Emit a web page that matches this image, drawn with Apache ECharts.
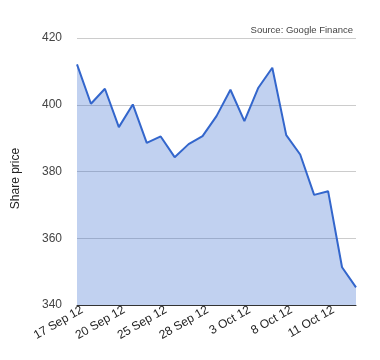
<!DOCTYPE html>
<html><head><meta charset="utf-8">
<script src="https://cdn.jsdelivr.net/npm/echarts@6/dist/echarts.min.js"></script>
<style>html,body{margin:0;padding:0;background:#fff}#c{width:380px;height:360px}</style>
</head><body><div id="c"></div>
<script>
var dates = ["17 Sep 12","18 Sep 12","19 Sep 12","20 Sep 12","21 Sep 12","24 Sep 12","25 Sep 12","26 Sep 12","27 Sep 12","28 Sep 12","1 Oct 12","2 Oct 12","3 Oct 12","4 Oct 12","5 Oct 12","8 Oct 12","9 Oct 12","10 Oct 12","11 Oct 12","12 Oct 12","15 Oct 12"];
var prices = [412.1,400.3,404.8,393.3,400.1,388.6,390.5,384.3,388.2,390.6,396.6,404.5,395.1,405.1,411.1,390.9,385.1,373.0,374.1,351.3,345.3];
var yTicks = [340,360,380,400,420];
var chart = echarts.init(document.getElementById('c'), null, {renderer:'canvas'});
chart.setOption({
  animation:false,
  backgroundColor:'#fff',
  title:{text:'Source: Google Finance', right:22, top:20, textStyle:{fontFamily:'Liberation Sans, Arial', fontSize:9.5, fontWeight:'normal', color:'#444'}},
  grid:{left:77, right:24, top:38, bottom:55},
  xAxis:{type:'category', data:dates, boundaryGap:false,
    axisLine:{show:true, lineStyle:{color:'#333', width:1}},
    axisTick:{show:false},
    axisLabel:{interval:2, rotate:30, color:'#222', fontFamily:'Liberation Sans, Arial', fontSize:12, margin:7, padding:[0,-6,0,0]},
    splitLine:{show:false}},
  yAxis:{type:'value', min:yTicks[0], max:yTicks[yTicks.length-1], interval:20,
    name:'Share price', nameLocation:'middle', nameGap:55, nameRotate:90,
    nameTextStyle:{color:'#222', fontFamily:'Liberation Sans, Arial', fontSize:12, padding:[0,14,0,0]},
    axisLine:{show:false}, axisTick:{show:false},
    axisLabel:{color:'#444', fontFamily:'Liberation Sans, Arial', fontSize:12, margin:15},
    splitLine:{lineStyle:{color:'#ccc', width:1}}},
  series:[{type:'line', data:prices, symbol:'none', z:1,
    lineStyle:{color:'#3366cc', width:2},
    areaStyle:{color:'rgba(51,102,204,0.3)', opacity:1, origin:'start'}}]
});
</script></body></html>
